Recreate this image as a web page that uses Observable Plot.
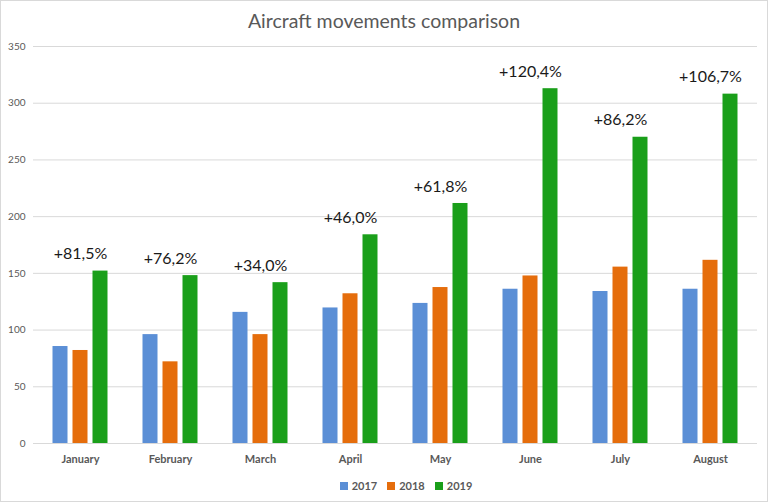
<!DOCTYPE html>
<html>
<head>
<meta charset="utf-8">
<script src="https://cdn.jsdelivr.net/npm/d3@7"></script>
<script src="https://cdn.jsdelivr.net/npm/@observablehq/plot@0.6"></script>
<style>
  html, body { margin: 0; padding: 0; background: #fff; }
  #frame {
    box-sizing: border-box; width: 768px; height: 502px;
    border: 1px solid #d9d9d9; position: relative; overflow: hidden;
    font-family: Lato, "Open Sans", sans-serif;
  }
  #title {
    height: 39px; line-height: 40px; text-align: center;
    font-size: 19.5px; color: #595959;
  }
  #chart svg { display: block; }
  #chart [aria-label^="x-axis"] text { font-weight: bold; font-size: 11px; fill: #595959; }
  #chart [aria-label^="y-axis"] text { font-size: 10px; fill: #595959; }
  #legend {
    position: absolute; left: 0; top: 478px; width: 766px;
    display: flex; justify-content: center; padding-left: 44px; box-sizing: border-box;
    font-size: 11px; font-weight: bold; color: #595959;
  }
  .item { display: flex; align-items: center; margin: 0 5px; }
  .sw { width: 8px; height: 8px; margin-right: 4px; }
</style>
</head>
<body>
<div id="frame">
  <div id="title">Aircraft movements comparison</div>
  <div id="chart"></div>
  <div id="legend"></div>
</div>
<script>
const months = ["January", "February", "March", "April", "May", "June", "July", "August"];
const years = ["2017", "2018", "2019"];
const values2017 = [85.5, 96, 115.6, 119.5, 123.5, 136, 134, 136];
const values2018 = [82, 72, 96, 132, 137.5, 147.7, 155.5, 161.5];
const values2019 = [152, 148, 141.8, 184, 211.6, 312.8, 270, 308];
const pctLabels = ["+81,5%", "+76,2%", "+34,0%", "+46,0%", "+61,8%", "+120,4%", "+86,2%", "+106,7%"];
const yTicks = [0, 50, 100, 150, 200, 250, 300, 350];
const colors = ["#5b8fd6", "#e56d0c", "#1a9f1a"];

const rows = months.map((m, i) => ({
  month: m, v2017: values2017[i], v2018: values2018[i], v2019: values2019[i], label: pctLabels[i]
}));

// bar placement inside each month band (band width ≈ 90.5px)
const barW = 15.5, gap = 4.5, band = 724 / months.length;
const groupW = 3 * barW + 2 * gap;
const left0 = (band - groupW) / 2;
const insets = years.map((y, k) => {
  const l = left0 + k * (barW + gap);
  return { insetLeft: l, insetRight: band - l - barW };
});

const chart = Plot.plot({
  width: 766,
  height: 432,
  marginTop: 6,
  marginLeft: 32,
  marginRight: 10,
  marginBottom: 29,
  style: { fontFamily: "Lato, 'Open Sans', sans-serif", background: "transparent" },
  x: { domain: months, padding: 0, tickSize: 0, tickPadding: 12, label: null },
  y: { domain: [0, 350], ticks: yTicks, tickSize: 0, tickPadding: 8, label: null },
  marks: [
    Plot.ruleY(yTicks, { stroke: "#d9d9d9", strokeWidth: 1 }),
    Plot.barY(rows, { x: "month", y: "v2017", fill: colors[0], ...insets[0] }),
    Plot.barY(rows, { x: "month", y: "v2018", fill: colors[1], ...insets[1] }),
    Plot.barY(rows, { x: "month", y: "v2019", fill: colors[2], ...insets[2] }),
    Plot.text(rows, { x: "month", y: "v2019", text: "label", dy: -17, fontSize: 16, fill: "#1a1a1a" })
  ]
});
document.getElementById("chart").appendChild(chart);

const legend = document.getElementById("legend");
years.forEach((y, k) => {
  const it = document.createElement("div");
  it.className = "item";
  const sw = document.createElement("div");
  sw.className = "sw";
  sw.style.background = colors[k];
  const t = document.createElement("span");
  t.textContent = y;
  it.appendChild(sw); it.appendChild(t);
  legend.appendChild(it);
});
</script>
</body>
</html>
